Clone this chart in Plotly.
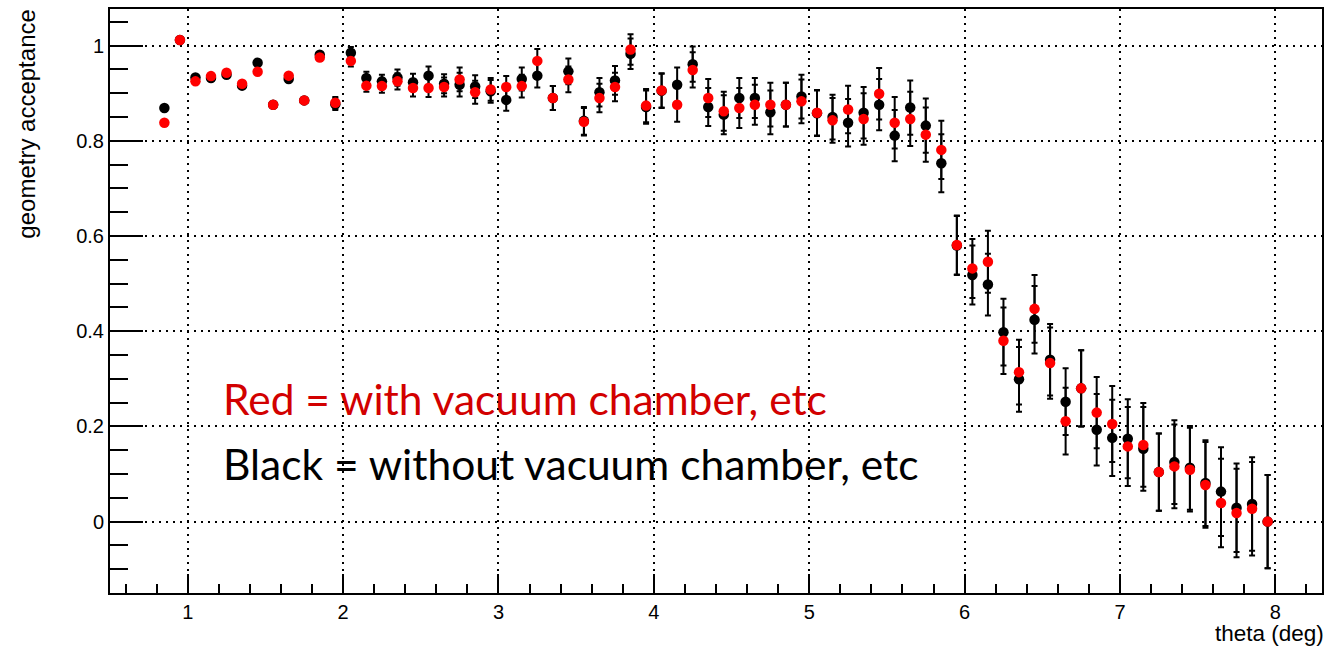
import plotly.graph_objects as go

theta = [0.85, 0.95, 1.05, 1.15, 1.25, 1.35, 1.45, 1.55, 1.65, 1.75, 1.85, 1.95,
         2.05, 2.15, 2.25, 2.35, 2.45, 2.55, 2.65, 2.75, 2.85, 2.95,
         3.05, 3.15, 3.25, 3.35, 3.45, 3.55, 3.65, 3.75, 3.85, 3.95,
         4.05, 4.15, 4.25, 4.35, 4.45, 4.55, 4.65, 4.75, 4.85, 4.95,
         5.05, 5.15, 5.25, 5.35, 5.45, 5.55, 5.65, 5.75, 5.85, 5.95,
         6.05, 6.15, 6.25, 6.35, 6.45, 6.55, 6.65, 6.75, 6.85, 6.95,
         7.05, 7.15, 7.25, 7.35, 7.45, 7.55, 7.65, 7.75, 7.85, 7.95]

black_acc = [0.869, 1.012, 0.933, 0.932, 0.939, 0.916, 0.964, 0.876, 0.930, 0.885, 0.981, 0.877,
             0.985, 0.932, 0.925, 0.933, 0.923, 0.937, 0.920, 0.918, 0.914, 0.904,
             0.886, 0.930, 0.937, 0.890, 0.946, 0.842, 0.902, 0.927, 0.983, 0.871,
             0.905, 0.918, 0.961, 0.871, 0.855, 0.890, 0.890, 0.860, 0.876, 0.893,
             0.858, 0.850, 0.838, 0.859, 0.876, 0.811, 0.870, 0.832, 0.753, 0.580,
             0.518, 0.498, 0.398, 0.299, 0.424, 0.340, 0.252, 0.280, 0.193, 0.176,
             0.174, 0.153, 0.104, 0.125, 0.113, 0.081, 0.063, 0.029, 0.037, 0.000]

red_acc = [0.838, 1.012, 0.925, 0.936, 0.943, 0.920, 0.945, 0.876, 0.937, 0.885, 0.975, 0.880,
           0.968, 0.916, 0.915, 0.925, 0.911, 0.911, 0.913, 0.929, 0.902, 0.908,
           0.913, 0.915, 0.968, 0.890, 0.929, 0.840, 0.890, 0.913, 0.992, 0.874,
           0.906, 0.876, 0.949, 0.890, 0.862, 0.869, 0.876, 0.876, 0.876, 0.883,
           0.859, 0.843, 0.866, 0.846, 0.899, 0.838, 0.846, 0.813, 0.781, 0.581,
           0.532, 0.546, 0.380, 0.314, 0.447, 0.333, 0.211, 0.280, 0.229, 0.205,
           0.158, 0.161, 0.104, 0.116, 0.109, 0.077, 0.039, 0.018, 0.027, 0.000]

acc_err = [0.005, 0.005, 0.005, 0.005, 0.005, 0.005, 0.005, 0.005, 0.005, 0.005, 0.005, 0.012,
           0.012, 0.013, 0.014, 0.017, 0.018, 0.019, 0.020, 0.025, 0.024, 0.024,
           0.023, 0.024, 0.025, 0.025, 0.027, 0.029, 0.030, 0.030, 0.032, 0.035,
           0.036, 0.036, 0.037, 0.040, 0.041, 0.042, 0.042, 0.046, 0.046, 0.046,
           0.048, 0.047, 0.050, 0.054, 0.054, 0.054, 0.057, 0.057, 0.061, 0.062,
           0.062, 0.065, 0.070, 0.068, 0.071, 0.075, 0.070, 0.080, 0.075, 0.080,
           0.083, 0.088, 0.081, 0.088, 0.088, 0.090, 0.093, 0.093, 0.098, 0.098]

x_ticks = [1, 2, 3, 4, 5, 6, 7, 8]
y_ticks = [0, 0.2, 0.4, 0.6, 0.8, 1]
y_tick_labels = ["0", "0.2", "0.4", "0.6", "0.8", "1"]

red_label = "Red = with vacuum chamber, etc"
black_label = "Black = without vacuum chamber, etc"
x_title = "theta (deg)"
y_title = "geometry acceptance"

W, H = 1327, 646
ML, MR, MT, MB = 110, 3, 9, 53

fig = go.Figure()
err_style = dict(type="data", array=acc_err, visible=True, color="black", thickness=2, width=3)
fig.add_trace(go.Scatter(x=theta, y=black_acc, mode="markers",
                         marker=dict(color="black", size=10.5, line=dict(width=0)),
                         error_y=err_style, showlegend=False))
fig.add_trace(go.Scatter(x=theta, y=red_acc, mode="markers",
                         marker=dict(color="#ff0000", size=10.5, line=dict(width=0)),
                         error_y=err_style, showlegend=False))

tick_font = dict(family="Liberation Sans, Arial, sans-serif", size=20, color="black")
fig.update_xaxes(range=[0.5, 8.3], tickvals=x_ticks, ticktext=[str(v) for v in x_ticks],
                 showline=True, linewidth=2, linecolor="black", mirror=True,
                 ticks="inside", ticklen=19, tickwidth=2, tickcolor="black",
                 showgrid=True, gridcolor="black", gridwidth=2, griddash="2px,5px",
                 zeroline=False, tickfont=tick_font,
                 minor=dict(dtick=0.2, tick0=0, ticks="inside", ticklen=9, tickwidth=2,
                            tickcolor="black", showgrid=False))
fig.update_yaxes(range=[-0.15, 1.077], tickvals=y_ticks, ticktext=y_tick_labels,
                 showline=True, linewidth=2, linecolor="black", mirror=True,
                 ticks="inside", ticklen=33, tickwidth=2, tickcolor="black",
                 showgrid=True, gridcolor="black", gridwidth=2, griddash="2px,5px",
                 zeroline=False, tickfont=tick_font,
                 minor=dict(dtick=0.05, tick0=0, ticks="inside", ticklen=18, tickwidth=2,
                            tickcolor="black", showgrid=False))

pw = W - ML - MR
ph = H - MT - MB
legend_font = "Lato, Noto Sans, sans-serif"
fig.add_annotation(x=1.217, y=0.258, xref="x", yref="y", text=red_label, showarrow=False,
                   xanchor="left", yanchor="middle",
                   font=dict(family=legend_font, size=42.5, color="#d20000"))
fig.add_annotation(x=1.217, y=0.122, xref="x", yref="y", text=black_label, showarrow=False,
                   xanchor="left", yanchor="middle",
                   font=dict(family=legend_font, size=42.5, color="black"))
fig.add_annotation(x=1.0, y=-(633 - (H - MB)) / ph, xref="paper", yref="paper",
                   text=x_title, showarrow=False, xanchor="right", yanchor="middle", xshift=4,
                   font=dict(family="Liberation Sans, Arial, sans-serif", size=22.5, color="black"))
fig.add_annotation(x=(26 - ML) / pw, y=(H - MB - 8) / ph, xref="paper", yref="paper",
                   text=y_title, showarrow=False, textangle=-90, xanchor="center", yanchor="top",
                   font=dict(family="Liberation Sans, Arial, sans-serif", size=24, color="black"))

fig.update_layout(width=W, height=H, margin=dict(l=ML, r=MR, t=MT, b=MB),
                  paper_bgcolor="white", plot_bgcolor="white", showlegend=False)

fig.write_html("out.html")
